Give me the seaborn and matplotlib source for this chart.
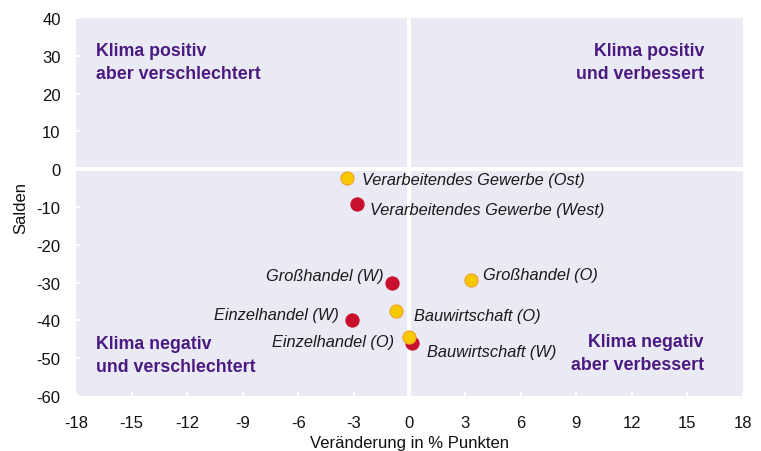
import matplotlib
matplotlib.use("Agg")
import matplotlib.pyplot as plt
import seaborn as sns
import pandas as pd

# Data
labels = ["Verarbeitendes Gewerbe (Ost)", "Verarbeitendes Gewerbe (West)",
          "Großhandel (W)", "Einzelhandel (W)", "Großhandel (O)",
          "Bauwirtschaft (O)", "Einzelhandel (O)", "Bauwirtschaft (W)"]
change = [-3.37, -2.83, -0.94, -3.12, 3.30, -0.73, 0.0, 0.12]
saldo = [-2.4, -9.3, -30.2, -39.9, -29.4, -37.6, -44.5, -45.9]
region = ["Ost", "West", "West", "West", "Ost", "Ost", "Ost", "West"]

x_ticks = list(range(-18, 19, 3))
y_ticks = list(range(-60, 41, 10))

quadrant_texts = ["Klima positiv\naber verschlechtert", "Klima positiv\nund verbessert",
                  "Klima negativ\nund verschlechtert", "Klima negativ\naber verbessert"]

# label offsets in points (dx, dy) and alignment
label_offsets = [(11, -1, "left"), (9, -4, "left"), (-6, 6, "right"), (-9, 4, "right"),
                 (9, 4, "left"), (13, -3, "left"), (-11, -3, "right"), (11, -6, "left")]

df = pd.DataFrame({"label": labels, "x": change, "y": saldo, "region": region})

sns.set_theme(style="dark")
plt.rcParams['font.family'] = ['Liberation Sans', 'DejaVu Sans']

fig = plt.figure(figsize=(7.61, 4.52), dpi=100)
ax = fig.add_axes([76/761, 1-397/452, (743-76)/761, (397-19)/452])
bg = "#e9eaf4"
ax.set_facecolor(bg)
for s in ax.spines.values():
    s.set_visible(False)

ax.axhline(0, color="white", lw=3, zorder=1)
ax.axvline(0, color="white", lw=3, zorder=1)

palette = {"West": "#c8102e", "Ost": "#f8c800"}
edges = {"West": "#c8102e", "Ost": "#f0a030"}
for reg in ["West", "Ost"]:
    sub = df[df.region == reg]
    sns.scatterplot(data=sub, x="x", y="y", color=palette[reg], edgecolor=edges[reg],
                    linewidth=0.8, s=90, ax=ax, zorder=3, legend=False)

for (lab, xv, yv), (dx, dy, ha) in zip(zip(labels, change, saldo), label_offsets):
    ax.annotate(lab, (xv, yv), xytext=(dx, dy), textcoords="offset points",
                ha=ha, va="center", fontsize=11.8, style="italic", color="#1a1a1a", zorder=4)

qcolor = "#4b1a80"
qkw = dict(fontsize=12.8, fontweight="bold", color=qcolor, linespacing=1.42,
           transform=ax.transAxes, va="center")
ax.text((96-76)/667, 1-(63-19)/378, quadrant_texts[0], ha="left", **qkw)
ax.text((704-76)/667, 1-(63-19)/378, quadrant_texts[1], ha="right", **qkw)
ax.text((96-76)/667, 1-(356-19)/378, quadrant_texts[2], ha="left", **qkw)
ax.text((704-76)/667, 1-(354-19)/378, quadrant_texts[3], ha="right", **qkw)

ax.set_xlim(-18, 18)
ax.set_ylim(-60, 40)
ax.set_xticks(x_ticks)
ax.set_yticks(y_ticks)
ax.set_xticklabels([str(t) for t in x_ticks])
ax.set_yticklabels([str(t) for t in y_ticks])
ax.tick_params(axis="both", direction="in", color="white", length=3, width=1.5,
               labelsize=12, labelcolor="#111111", bottom=True, left=True)
ax.tick_params(axis="x", pad=14)
ax.tick_params(axis="y", pad=11)
ax.grid(False)
ax.set_xlabel("Veränderung in % Punkten", fontsize=12, color="#111111", labelpad=3)
ax.set_ylabel("Salden", fontsize=12, color="#111111", labelpad=6)

fig.savefig("out.png", dpi=100, facecolor="white")
